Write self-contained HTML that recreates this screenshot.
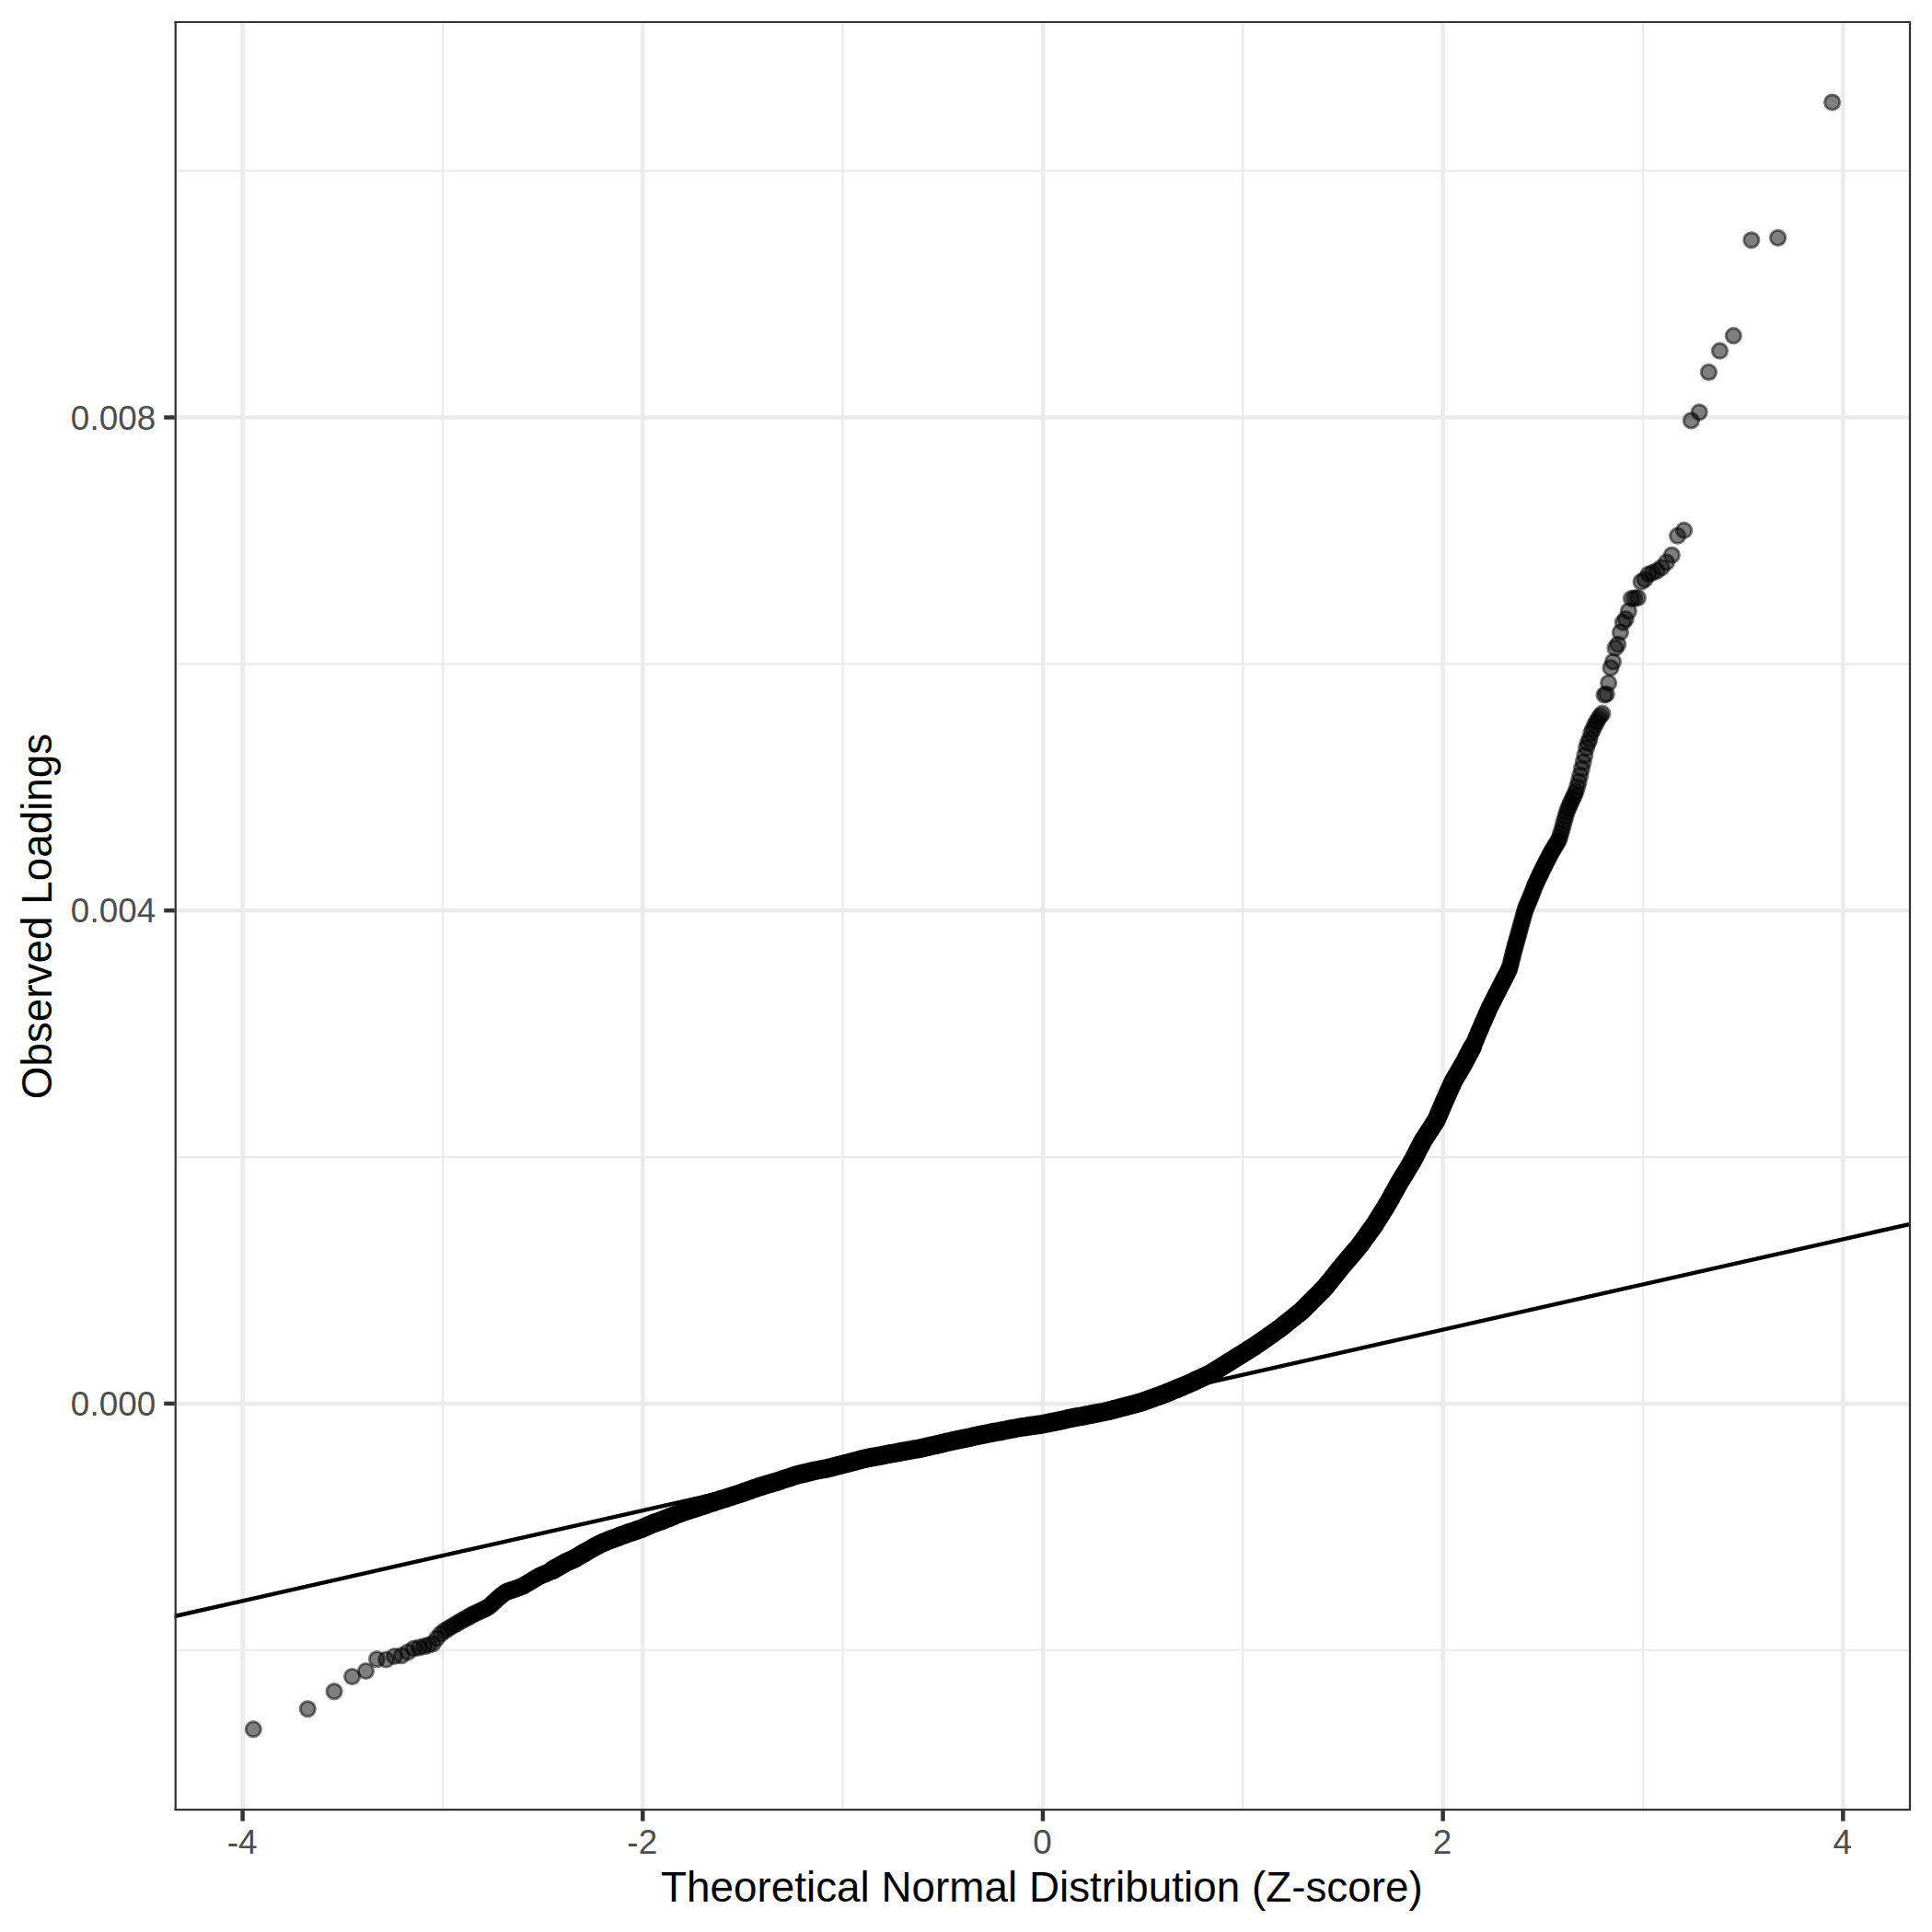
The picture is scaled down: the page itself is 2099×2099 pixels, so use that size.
<!DOCTYPE html>
<html lang="en"><head><meta charset="utf-8"><title>QQ plot</title>
<style>html,body{margin:0;padding:0;background:#fff}svg{display:block}</style></head>
<body>
<svg width="2099" height="2099" viewBox="0 0 2099 2099">
<defs>
<clipPath id="pc"><rect x="189.6" y="23" width="1886.4" height="1944.15"/></clipPath>
<circle id="p" r="8.14" fill="#000" fill-opacity=".5" stroke="#000" stroke-opacity=".5" stroke-width="2.95"/>
</defs>
<rect width="2099" height="2099" fill="#fff"/>
<g clip-path="url(#pc)">
<g stroke="#EBEBEB" stroke-width="2.225" fill="none">
<path d="M189.7 1792.75H2076.1"/>
<path d="M189.7 1257.05H2076.1"/>
<path d="M189.7 721.35H2076.1"/>
<path d="M189.7 185.65H2076.1"/>
<path d="M480.93 22.9V1967.1"/>
<path d="M915.61 22.9V1967.1"/>
<path d="M1350.29 22.9V1967.1"/>
<path d="M1784.97 22.9V1967.1"/>
</g>
<g stroke="#EBEBEB" stroke-width="4.45" fill="none">
<path d="M189.7 1524.90H2076.1"/>
<path d="M189.7 989.20H2076.1"/>
<path d="M189.7 453.50H2076.1"/>
<path d="M263.59 22.9V1967.1"/>
<path d="M698.27 22.9V1967.1"/>
<path d="M1132.95 22.9V1967.1"/>
<path d="M1567.63 22.9V1967.1"/>
<path d="M2002.31 22.9V1967.1"/>
</g>
<path d="M169.7 1760.47L2096.1 1325.13" stroke="#000" stroke-width="4.45" fill="none"/>
<path d="M600.0 1706.0 602.6 1704.5 605.1 1703.1 607.6 1701.7 609.9 1700.3 612.3 1699.0 614.5 1697.7 617.4 1696.4 620.3 1695.1 623.0 1693.9 625.7 1692.4 628.3 1690.9 630.8 1689.4 633.3 1687.9 635.7 1686.6 638.0 1685.2 640.3 1683.9 642.6 1682.6 645.3 1681.1 647.9 1679.6 650.5 1678.2 653.0 1677.0 655.4 1675.9 657.8 1674.9 660.2 1673.9 662.9 1672.9 665.5 1671.9 668.1 1671.0 670.6 1670.1 673.1 1669.1 675.5 1668.2 677.9 1667.3 680.5 1666.3 683.1 1665.4 685.7 1664.6 688.2 1663.8 690.6 1663.0 693.0 1662.1 695.6 1661.2 698.2 1660.3 700.7 1659.1 703.2 1658.0 705.6 1656.9 708.0 1655.9 710.6 1654.9 713.1 1654.0 715.6 1653.1 718.1 1652.2 720.4 1651.3 722.8 1650.4 725.3 1649.4 727.8 1648.4 730.2 1647.4 732.6 1646.4 734.9 1645.5 737.5 1644.5 739.9 1643.5 742.3 1642.6 744.9 1641.8 747.5 1640.9 749.9 1640.1 752.4 1639.4 754.7 1638.6 757.3 1637.8 759.7 1637.0 762.2 1636.2 764.6 1635.4 767.1 1634.6 769.6 1633.8 772.0 1633.0 774.4 1632.2 776.9 1631.3 779.3 1630.5 781.7 1629.7 784.3 1628.9 786.8 1628.2 789.2 1627.4 791.6 1626.6 794.1 1625.9 796.5 1625.1 799.0 1624.3 801.5 1623.5 803.9 1622.7 806.4 1621.9 808.8 1621.0 811.2 1620.1 813.7 1619.3 816.1 1618.4 818.4 1617.6 820.9 1616.7 823.3 1615.8 825.8 1615.0 828.2 1614.3 830.6 1613.6 833.1 1612.9 835.5 1612.2 838.0 1611.4 840.4 1610.7 842.9 1610.0 845.3 1609.3 847.8 1608.4 850.2 1607.6 852.6 1606.8 855.1 1606.0 857.5 1605.2 859.9 1604.4 862.3 1603.6 864.8 1602.8 867.2 1602.1 869.7 1601.5 872.2 1600.9 874.7 1600.4 877.1 1599.8 879.6 1599.2 882.1 1598.6 884.6 1598.0 887.0 1597.5 889.6 1597.0 892.1 1596.5 894.5 1596.0 897.0 1595.6 899.5 1595.1 902.0 1594.5 904.4 1593.9 906.9 1593.2 909.3 1592.6 911.8 1591.9 914.3 1591.3 916.7 1590.7 919.2 1590.0 921.6 1589.4 924.1 1588.8 926.6 1588.1 929.0 1587.5 931.5 1586.9 933.9 1586.2 936.3 1585.6 938.8 1585.0 941.2 1584.3 943.7 1583.9 946.2 1583.4 948.7 1582.9 951.2 1582.5 953.7 1582.0 956.2 1581.6 958.7 1581.1 961.2 1580.6 963.6 1580.2 966.1 1579.7 968.6 1579.2 971.1 1578.8 973.6 1578.3 976.1 1577.9 978.5 1577.4 981.0 1576.9 983.5 1576.5 986.0 1576.0 988.5 1575.6 991.0 1575.2 993.5 1574.7 996.0 1574.3 998.4 1573.9 1000.9 1573.4 1003.4 1572.8 1005.8 1572.2 1008.3 1571.7 1010.7 1571.1 1013.2 1570.5 1015.7 1570.0 1018.1 1569.4 1020.6 1568.8 1023.0 1568.3 1025.5 1567.7 1027.9 1567.1 1030.4 1566.5 1032.9 1566.0 1035.3 1565.4 1037.8 1564.9 1040.3 1564.3 1042.7 1563.8 1045.2 1563.3 1047.7 1562.8 1050.2 1562.3 1052.6 1561.8 1055.1 1561.3 1057.6 1560.7 1060.0 1560.2 1062.5 1559.7 1064.9 1559.2 1067.4 1558.7 1069.9 1558.1 1072.4 1557.6 1074.8 1557.2 1077.3 1556.7 1079.8 1556.2 1082.3 1555.7 1084.8 1555.3 1087.2 1554.8 1089.7 1554.3 1092.2 1553.8 1094.6 1553.4 1097.1 1552.9 1099.6 1552.4 1102.1 1552.0 1104.6 1551.5 1107.1 1551.0 1109.5 1550.6 1112.0 1550.2 1114.5 1549.9 1117.0 1549.5 1119.5 1549.1 1122.0 1548.8 1124.5 1548.4 1127.0 1548.1 1129.6 1547.7 1132.1 1547.3 1134.5 1546.9 1137.0 1546.4 1139.5 1545.9 1141.9 1545.3 1144.4 1544.8 1146.9 1544.3 1149.3 1543.8 1151.8 1543.3 1154.3 1542.8 1156.8 1542.3 1159.2 1541.7 1161.7 1541.2 1164.2 1540.7 1166.7 1540.2 1169.2 1539.7 1171.7 1539.2 1174.1 1538.8 1176.6 1538.3 1179.1 1537.8 1181.5 1537.3 1184.0 1536.9 1186.5 1536.4 1189.0 1535.9 1191.4 1535.4 1193.9 1535.0 1196.4 1534.5 1198.9 1534.0 1201.4 1533.5 1203.8 1533.0 1206.2 1532.3 1208.7 1531.7 1211.1 1531.0 1213.6 1530.4 1216.0 1529.8 1218.4 1529.1 1220.9 1528.5 1223.3 1527.8 1225.8 1527.2 1228.2 1526.6 1230.6 1525.9 1233.1 1525.3 1235.5 1524.6 1238.0 1524.0 1240.4 1523.2 1242.8 1522.4 1245.1 1521.5 1247.5 1520.7 1249.9 1519.8 1252.2 1519.0 1254.6 1518.1 1257.0 1517.3 1259.4 1516.4 1261.8 1515.6 1264.1 1514.7 1266.5 1513.8 1268.8 1512.8 1271.2 1511.9 1273.5 1510.9 1275.8 1509.9 1278.2 1509.0 1280.5 1508.0 1282.8 1507.0 1285.2 1506.1 1287.5 1505.1 1289.8 1504.1 1292.1 1503.1 1294.5 1502.0 1296.8 1501.0 1299.1 1499.9 1301.4 1498.8 1303.7 1497.8 1306.0 1496.7 1308.3 1495.6 1310.6 1494.6 1312.9 1493.5 1315.2 1492.4 1317.3 1491.0 1319.5 1489.7 1321.6 1488.4 1323.8 1487.0 1326.0 1485.7 1328.1 1484.3 1330.2 1483.0 1332.4 1481.7 1334.6 1480.3 1336.7 1479.0 1338.9 1477.6 1341.0 1476.3 1343.2 1474.9 1345.3 1473.6 1347.5 1472.2 1349.6 1470.9 1351.8 1469.5 1353.9 1468.2 1356.1 1466.8 1358.2 1465.4 1360.4 1464.1 1362.6 1462.7 1364.7 1461.3 1366.8 1459.9 1368.9 1458.4 1371.0 1457.0 1373.0 1455.5 1375.1 1454.1 1377.2 1452.6 1379.4 1451.1 1381.4 1449.7 1383.5 1448.2 1385.6 1446.7 1387.7 1445.3 1389.7 1443.8 1391.8 1442.2 1393.8 1440.6 1395.8 1439.0 1397.7 1437.4 1399.8 1435.8 1401.8 1434.2 1403.7 1432.6 1405.7 1431.0 1407.7 1429.4 1409.8 1427.8 1411.7 1426.2 1413.7 1424.7 1415.5 1422.9 1417.3 1421.1 1419.2 1419.2 1421.0 1417.4 1422.8 1415.6 1424.6 1413.8 1426.4 1412.0 1428.3 1410.1 1430.1 1408.3 1431.9 1406.5 1433.7 1404.7 1435.5 1402.9 1437.3 1401.1 1439.1 1399.2 1440.7 1397.2 1442.4 1395.1 1444.1 1393.0 1445.6 1391.1 1447.2 1389.1 1448.8 1387.1 1450.5 1385.1 1452.1 1383.0 1453.8 1380.9 1455.4 1378.8 1457.0 1376.9 1458.7 1374.8 1460.5 1372.8 1462.1 1370.9 1463.7 1369.0 1465.4 1367.0 1467.1 1365.0 1468.8 1363.0 1470.5 1361.0 1472.2 1359.0 1474.0 1356.9 1475.7 1354.9 1477.3 1352.9 1478.8 1350.8 1480.4 1348.7 1481.9 1346.5 1483.5 1344.3 1485.1 1342.1 1486.7 1339.9 1488.2 1337.8 1489.7 1335.8 1491.2 1333.7 1492.7 1331.6 1494.3 1329.3 1495.6 1327.0 1497.0 1324.8 1498.5 1322.5 1499.9 1320.2 1501.3 1317.9 1502.8 1315.5 1504.3 1313.2 1505.8 1310.8 1507.1 1308.6 1508.4 1306.3 1509.8 1303.9 1511.2 1301.4 1512.5 1298.9 1513.9 1296.4 1515.4 1293.8 1516.6 1291.6 1517.8 1289.4 1519.1 1287.1 1520.3 1284.9 1521.8 1282.5 1523.3 1280.0 1524.6 1277.8 1526.0 1275.7 1527.3 1273.5 1528.7 1271.3 1530.0 1269.0 1531.4 1266.7 1532.8 1264.4 1534.2 1262.0 1535.4 1259.7 1536.6 1257.4 1537.9 1255.0 1539.1 1252.6 1540.3 1250.2 1541.6 1247.7 1542.9 1245.2 1544.2 1242.7 1545.5 1240.2 1546.8 1238.0 1548.4 1235.6 1550.0 1233.1 1551.4 1231.0 1552.8 1228.8 1554.2 1226.7 1555.6 1224.5 1557.0 1222.3 1558.5 1220.0 1560.0 1217.7 1561.2 1215.3 1562.4 1212.5 1563.6 1209.6 1564.8 1206.7 1566.1 1203.8 1567.4 1200.8 1568.6 1197.8 1569.9 1194.8 1571.3 1191.9 1572.6 1188.9 1573.9 1185.9 1575.3 1182.9 1576.3 1180.6 1577.4 1178.3 1578.4 1175.9 1579.5 1173.7 1580.9 1171.2 1582.4 1168.8 1583.9 1166.3 1585.4 1163.7 1586.9 1161.1 1588.4 1158.5 1590.0 1155.8 1591.2 1153.6 1592.4 1151.3 1593.6 1149.0 1594.8 1146.6 1596.1 1144.3 1597.3 1141.9 1598.6 1139.4 1599.9 1137.0" stroke="#000" stroke-width="20.6" stroke-linecap="round" stroke-linejoin="round" fill="none"/>
<g>
<use href="#p" x="275.3" y="1878.7"/>
<use href="#p" x="334.3" y="1856.6"/>
<use href="#p" x="363.1" y="1837.6"/>
<use href="#p" x="382.6" y="1821.5"/>
<use href="#p" x="397.5" y="1815.5"/>
<use href="#p" x="409.5" y="1802.6"/>
<use href="#p" x="419.7" y="1803.0"/>
<use href="#p" x="428.5" y="1799.5"/>
<use href="#p" x="436.3" y="1798.6"/>
<use href="#p" x="443.3" y="1794.8"/>
<use href="#p" x="449.6" y="1791.1"/>
<use href="#p" x="455.4" y="1789.9"/>
<use href="#p" x="460.8" y="1788.7"/>
<use href="#p" x="465.8" y="1787.3"/>
<use href="#p" x="470.4" y="1785.6"/>
<use href="#p" x="474.8" y="1779.8"/>
<use href="#p" x="478.9" y="1775.0"/>
<use href="#p" x="482.8" y="1771.9"/>
<use href="#p" x="486.5" y="1769.6"/>
<use href="#p" x="490.0" y="1767.5"/>
<use href="#p" x="493.4" y="1765.5"/>
<use href="#p" x="496.6" y="1763.6"/>
<use href="#p" x="499.7" y="1761.8"/>
<use href="#p" x="502.6" y="1760.2"/>
<use href="#p" x="505.5" y="1758.6"/>
<use href="#p" x="508.2" y="1757.1"/>
<use href="#p" x="510.9" y="1755.6"/>
<use href="#p" x="513.4" y="1754.2"/>
<use href="#p" x="515.9" y="1753.0"/>
<use href="#p" x="518.3" y="1751.9"/>
<use href="#p" x="520.6" y="1750.8"/>
<use href="#p" x="522.9" y="1749.7"/>
<use href="#p" x="525.1" y="1748.7"/>
<use href="#p" x="527.2" y="1747.7"/>
<use href="#p" x="529.3" y="1746.7"/>
<use href="#p" x="531.3" y="1745.5"/>
<use href="#p" x="533.3" y="1743.7"/>
<use href="#p" x="535.2" y="1741.9"/>
<use href="#p" x="537.1" y="1740.1"/>
<use href="#p" x="538.9" y="1738.4"/>
<use href="#p" x="540.7" y="1736.7"/>
<use href="#p" x="542.4" y="1735.3"/>
<use href="#p" x="544.1" y="1733.9"/>
<use href="#p" x="545.8" y="1732.5"/>
<use href="#p" x="547.5" y="1731.2"/>
<use href="#p" x="549.1" y="1729.9"/>
<use href="#p" x="550.7" y="1729.2"/>
<use href="#p" x="552.2" y="1728.7"/>
<use href="#p" x="553.7" y="1728.2"/>
<use href="#p" x="555.2" y="1727.7"/>
<use href="#p" x="556.7" y="1727.2"/>
<use href="#p" x="558.1" y="1726.8"/>
<use href="#p" x="559.6" y="1726.3"/>
<use href="#p" x="560.9" y="1725.8"/>
<use href="#p" x="562.3" y="1725.3"/>
<use href="#p" x="563.7" y="1724.8"/>
<use href="#p" x="565.0" y="1724.3"/>
<use href="#p" x="566.3" y="1723.8"/>
<use href="#p" x="567.6" y="1723.4"/>
<use href="#p" x="568.8" y="1722.7"/>
<use href="#p" x="570.1" y="1721.9"/>
<use href="#p" x="571.3" y="1721.2"/>
<use href="#p" x="572.5" y="1720.5"/>
<use href="#p" x="573.7" y="1719.8"/>
<use href="#p" x="574.9" y="1719.1"/>
<use href="#p" x="576.1" y="1718.4"/>
<use href="#p" x="577.2" y="1717.7"/>
<use href="#p" x="578.3" y="1717.0"/>
<use href="#p" x="579.4" y="1716.3"/>
<use href="#p" x="580.5" y="1715.6"/>
<use href="#p" x="581.6" y="1715.0"/>
<use href="#p" x="582.7" y="1714.3"/>
<use href="#p" x="583.8" y="1713.7"/>
<use href="#p" x="584.8" y="1713.1"/>
<use href="#p" x="585.8" y="1712.5"/>
<use href="#p" x="586.9" y="1711.9"/>
<use href="#p" x="587.9" y="1711.5"/>
<use href="#p" x="588.9" y="1711.1"/>
<use href="#p" x="589.9" y="1710.7"/>
<use href="#p" x="590.8" y="1710.3"/>
<use href="#p" x="591.8" y="1709.9"/>
<use href="#p" x="592.7" y="1709.6"/>
<use href="#p" x="593.7" y="1709.2"/>
<use href="#p" x="594.6" y="1708.8"/>
<use href="#p" x="595.6" y="1708.4"/>
<use href="#p" x="596.5" y="1708.0"/>
<use href="#p" x="597.4" y="1707.5"/>
<use href="#p" x="598.3" y="1707.0"/>
<use href="#p" x="599.2" y="1706.5"/>
<use href="#p" x="600.0" y="1706.0"/>
<use href="#p" x="600.9" y="1705.5"/>
<use href="#p" x="601.8" y="1705.0"/>
<use href="#p" x="602.6" y="1704.5"/>
<use href="#p" x="603.5" y="1704.1"/>
<use href="#p" x="604.3" y="1703.6"/>
<use href="#p" x="605.1" y="1703.1"/>
<use href="#p" x="605.9" y="1702.7"/>
<use href="#p" x="606.8" y="1702.2"/>
<use href="#p" x="607.6" y="1701.7"/>
<use href="#p" x="608.4" y="1701.3"/>
<use href="#p" x="609.2" y="1700.8"/>
<use href="#p" x="609.9" y="1700.3"/>
<use href="#p" x="611.5" y="1699.4"/>
<use href="#p" x="613.0" y="1698.6"/>
<use href="#p" x="614.5" y="1697.7"/>
<use href="#p" x="616.0" y="1697.0"/>
<use href="#p" x="617.4" y="1696.4"/>
<use href="#p" x="618.9" y="1695.7"/>
<use href="#p" x="620.3" y="1695.1"/>
<use href="#p" x="621.7" y="1694.5"/>
<use href="#p" x="623.0" y="1693.9"/>
<use href="#p" x="624.4" y="1693.2"/>
<use href="#p" x="625.7" y="1692.4"/>
<use href="#p" x="627.0" y="1691.7"/>
<use href="#p" x="628.3" y="1690.9"/>
<use href="#p" x="629.6" y="1690.1"/>
<use href="#p" x="630.8" y="1689.4"/>
<use href="#p" x="632.1" y="1688.7"/>
<use href="#p" x="633.3" y="1687.9"/>
<use href="#p" x="634.5" y="1687.2"/>
<use href="#p" x="635.7" y="1686.6"/>
<use href="#p" x="636.9" y="1685.9"/>
<use href="#p" x="638.0" y="1685.2"/>
<use href="#p" x="639.2" y="1684.5"/>
<use href="#p" x="640.3" y="1683.9"/>
<use href="#p" x="1545.2" y="1240.7"/>
<use href="#p" x="1545.7" y="1239.7"/>
<use href="#p" x="1546.2" y="1238.9"/>
<use href="#p" x="1546.8" y="1238.0"/>
<use href="#p" x="1547.3" y="1237.2"/>
<use href="#p" x="1547.8" y="1236.4"/>
<use href="#p" x="1548.4" y="1235.6"/>
<use href="#p" x="1548.9" y="1234.7"/>
<use href="#p" x="1549.5" y="1233.9"/>
<use href="#p" x="1550.0" y="1233.1"/>
<use href="#p" x="1550.5" y="1232.2"/>
<use href="#p" x="1551.1" y="1231.4"/>
<use href="#p" x="1551.6" y="1230.5"/>
<use href="#p" x="1552.2" y="1229.7"/>
<use href="#p" x="1552.8" y="1228.8"/>
<use href="#p" x="1553.3" y="1228.0"/>
<use href="#p" x="1553.9" y="1227.1"/>
<use href="#p" x="1554.4" y="1226.2"/>
<use href="#p" x="1555.0" y="1225.4"/>
<use href="#p" x="1555.6" y="1224.5"/>
<use href="#p" x="1556.2" y="1223.6"/>
<use href="#p" x="1556.7" y="1222.7"/>
<use href="#p" x="1557.3" y="1221.8"/>
<use href="#p" x="1557.9" y="1220.9"/>
<use href="#p" x="1558.5" y="1220.0"/>
<use href="#p" x="1559.1" y="1219.1"/>
<use href="#p" x="1559.7" y="1218.2"/>
<use href="#p" x="1560.3" y="1217.3"/>
<use href="#p" x="1560.9" y="1216.0"/>
<use href="#p" x="1561.5" y="1214.6"/>
<use href="#p" x="1562.1" y="1213.2"/>
<use href="#p" x="1562.7" y="1211.8"/>
<use href="#p" x="1563.3" y="1210.4"/>
<use href="#p" x="1563.9" y="1208.9"/>
<use href="#p" x="1564.5" y="1207.5"/>
<use href="#p" x="1565.2" y="1206.0"/>
<use href="#p" x="1565.8" y="1204.5"/>
<use href="#p" x="1566.4" y="1203.1"/>
<use href="#p" x="1567.0" y="1201.6"/>
<use href="#p" x="1567.7" y="1200.1"/>
<use href="#p" x="1568.3" y="1198.6"/>
<use href="#p" x="1569.0" y="1197.1"/>
<use href="#p" x="1569.6" y="1195.6"/>
<use href="#p" x="1570.3" y="1194.1"/>
<use href="#p" x="1570.9" y="1192.6"/>
<use href="#p" x="1571.6" y="1191.1"/>
<use href="#p" x="1572.2" y="1189.7"/>
<use href="#p" x="1572.9" y="1188.2"/>
<use href="#p" x="1573.6" y="1186.7"/>
<use href="#p" x="1574.3" y="1185.2"/>
<use href="#p" x="1574.9" y="1183.7"/>
<use href="#p" x="1575.6" y="1182.1"/>
<use href="#p" x="1576.3" y="1180.6"/>
<use href="#p" x="1577.0" y="1179.1"/>
<use href="#p" x="1577.7" y="1177.5"/>
<use href="#p" x="1578.4" y="1175.9"/>
<use href="#p" x="1579.1" y="1174.4"/>
<use href="#p" x="1579.8" y="1173.1"/>
<use href="#p" x="1580.6" y="1171.9"/>
<use href="#p" x="1581.3" y="1170.6"/>
<use href="#p" x="1582.0" y="1169.4"/>
<use href="#p" x="1582.8" y="1168.1"/>
<use href="#p" x="1583.5" y="1166.9"/>
<use href="#p" x="1584.2" y="1165.6"/>
<use href="#p" x="1585.0" y="1164.3"/>
<use href="#p" x="1585.7" y="1163.1"/>
<use href="#p" x="1586.5" y="1161.8"/>
<use href="#p" x="1587.3" y="1160.5"/>
<use href="#p" x="1588.0" y="1159.2"/>
<use href="#p" x="1588.8" y="1157.8"/>
<use href="#p" x="1589.6" y="1156.5"/>
<use href="#p" x="1590.4" y="1155.1"/>
<use href="#p" x="1591.2" y="1153.6"/>
<use href="#p" x="1592.0" y="1152.0"/>
<use href="#p" x="1592.8" y="1150.5"/>
<use href="#p" x="1593.6" y="1149.0"/>
<use href="#p" x="1594.4" y="1147.4"/>
<use href="#p" x="1595.3" y="1145.8"/>
<use href="#p" x="1596.1" y="1144.3"/>
<use href="#p" x="1596.5" y="1143.5"/>
<use href="#p" x="1596.9" y="1142.7"/>
<use href="#p" x="1597.3" y="1141.9"/>
<use href="#p" x="1597.8" y="1141.0"/>
<use href="#p" x="1598.2" y="1140.2"/>
<use href="#p" x="1598.6" y="1139.4"/>
<use href="#p" x="1599.1" y="1138.6"/>
<use href="#p" x="1599.5" y="1137.8"/>
<use href="#p" x="1599.9" y="1137.0"/>
<use href="#p" x="1600.4" y="1136.1"/>
<use href="#p" x="1600.8" y="1135.3"/>
<use href="#p" x="1601.2" y="1134.3"/>
<use href="#p" x="1601.7" y="1133.2"/>
<use href="#p" x="1602.1" y="1132.2"/>
<use href="#p" x="1602.6" y="1131.1"/>
<use href="#p" x="1603.0" y="1130.1"/>
<use href="#p" x="1603.5" y="1129.0"/>
<use href="#p" x="1603.9" y="1128.0"/>
<use href="#p" x="1604.4" y="1126.9"/>
<use href="#p" x="1604.8" y="1125.8"/>
<use href="#p" x="1605.3" y="1124.8"/>
<use href="#p" x="1605.7" y="1123.7"/>
<use href="#p" x="1606.2" y="1122.6"/>
<use href="#p" x="1606.7" y="1121.5"/>
<use href="#p" x="1607.1" y="1120.4"/>
<use href="#p" x="1607.6" y="1119.3"/>
<use href="#p" x="1608.1" y="1118.2"/>
<use href="#p" x="1608.5" y="1117.1"/>
<use href="#p" x="1609.0" y="1116.0"/>
<use href="#p" x="1609.5" y="1114.8"/>
<use href="#p" x="1610.0" y="1113.7"/>
<use href="#p" x="1610.5" y="1112.6"/>
<use href="#p" x="1610.9" y="1111.5"/>
<use href="#p" x="1611.4" y="1110.4"/>
<use href="#p" x="1611.9" y="1109.3"/>
<use href="#p" x="1612.4" y="1108.2"/>
<use href="#p" x="1612.9" y="1107.1"/>
<use href="#p" x="1613.4" y="1106.0"/>
<use href="#p" x="1613.9" y="1104.8"/>
<use href="#p" x="1614.4" y="1103.7"/>
<use href="#p" x="1614.9" y="1102.5"/>
<use href="#p" x="1615.4" y="1101.4"/>
<use href="#p" x="1615.9" y="1100.2"/>
<use href="#p" x="1616.4" y="1099.1"/>
<use href="#p" x="1616.9" y="1097.9"/>
<use href="#p" x="1617.5" y="1096.7"/>
<use href="#p" x="1618.0" y="1095.5"/>
<use href="#p" x="1618.5" y="1094.3"/>
<use href="#p" x="1619.0" y="1093.2"/>
<use href="#p" x="1619.6" y="1092.2"/>
<use href="#p" x="1620.1" y="1091.2"/>
<use href="#p" x="1620.6" y="1090.1"/>
<use href="#p" x="1621.2" y="1089.1"/>
<use href="#p" x="1621.7" y="1088.0"/>
<use href="#p" x="1622.3" y="1087.0"/>
<use href="#p" x="1622.8" y="1085.9"/>
<use href="#p" x="1623.3" y="1084.8"/>
<use href="#p" x="1623.9" y="1083.7"/>
<use href="#p" x="1624.5" y="1082.7"/>
<use href="#p" x="1625.0" y="1081.6"/>
<use href="#p" x="1625.6" y="1080.5"/>
<use href="#p" x="1626.1" y="1079.4"/>
<use href="#p" x="1626.7" y="1078.2"/>
<use href="#p" x="1627.3" y="1077.1"/>
<use href="#p" x="1627.9" y="1076.0"/>
<use href="#p" x="1628.4" y="1074.9"/>
<use href="#p" x="1629.0" y="1073.7"/>
<use href="#p" x="1629.6" y="1072.6"/>
<use href="#p" x="1630.2" y="1071.4"/>
<use href="#p" x="1630.8" y="1070.3"/>
<use href="#p" x="1631.4" y="1069.1"/>
<use href="#p" x="1632.0" y="1067.9"/>
<use href="#p" x="1632.6" y="1066.7"/>
<use href="#p" x="1633.2" y="1065.6"/>
<use href="#p" x="1633.8" y="1064.4"/>
<use href="#p" x="1634.4" y="1063.2"/>
<use href="#p" x="1635.1" y="1061.9"/>
<use href="#p" x="1635.7" y="1060.7"/>
<use href="#p" x="1636.3" y="1059.5"/>
<use href="#p" x="1637.0" y="1058.3"/>
<use href="#p" x="1637.6" y="1057.0"/>
<use href="#p" x="1638.2" y="1055.8"/>
<use href="#p" x="1638.9" y="1054.5"/>
<use href="#p" x="1639.5" y="1053.2"/>
<use href="#p" x="1640.2" y="1051.3"/>
<use href="#p" x="1640.9" y="1048.7"/>
<use href="#p" x="1641.5" y="1046.1"/>
<use href="#p" x="1642.2" y="1043.4"/>
<use href="#p" x="1642.9" y="1040.7"/>
<use href="#p" x="1643.5" y="1038.0"/>
<use href="#p" x="1644.2" y="1035.3"/>
<use href="#p" x="1644.9" y="1032.5"/>
<use href="#p" x="1645.6" y="1029.9"/>
<use href="#p" x="1646.3" y="1027.4"/>
<use href="#p" x="1647.0" y="1024.8"/>
<use href="#p" x="1647.7" y="1022.2"/>
<use href="#p" x="1648.5" y="1019.6"/>
<use href="#p" x="1649.2" y="1017.0"/>
<use href="#p" x="1649.9" y="1014.4"/>
<use href="#p" x="1650.6" y="1011.7"/>
<use href="#p" x="1651.4" y="1009.0"/>
<use href="#p" x="1652.1" y="1006.3"/>
<use href="#p" x="1652.9" y="1003.6"/>
<use href="#p" x="1653.6" y="1000.8"/>
<use href="#p" x="1654.4" y="998.0"/>
<use href="#p" x="1655.2" y="995.2"/>
<use href="#p" x="1656.0" y="992.4"/>
<use href="#p" x="1656.7" y="989.7"/>
<use href="#p" x="1657.5" y="987.5"/>
<use href="#p" x="1658.3" y="985.3"/>
<use href="#p" x="1659.1" y="983.3"/>
<use href="#p" x="1660.0" y="981.4"/>
<use href="#p" x="1660.8" y="979.5"/>
<use href="#p" x="1661.6" y="977.6"/>
<use href="#p" x="1662.4" y="975.7"/>
<use href="#p" x="1663.3" y="973.6"/>
<use href="#p" x="1664.1" y="971.4"/>
<use href="#p" x="1665.0" y="969.1"/>
<use href="#p" x="1665.9" y="966.8"/>
<use href="#p" x="1666.7" y="964.5"/>
<use href="#p" x="1667.6" y="962.2"/>
<use href="#p" x="1668.5" y="960.2"/>
<use href="#p" x="1669.4" y="958.2"/>
<use href="#p" x="1670.3" y="956.1"/>
<use href="#p" x="1671.3" y="954.1"/>
<use href="#p" x="1672.2" y="952.0"/>
<use href="#p" x="1673.2" y="950.1"/>
<use href="#p" x="1674.1" y="948.2"/>
<use href="#p" x="1675.1" y="946.3"/>
<use href="#p" x="1676.0" y="944.3"/>
<use href="#p" x="1677.0" y="942.3"/>
<use href="#p" x="1678.0" y="940.3"/>
<use href="#p" x="1679.0" y="938.3"/>
<use href="#p" x="1680.1" y="936.3"/>
<use href="#p" x="1681.1" y="934.3"/>
<use href="#p" x="1682.1" y="932.2"/>
<use href="#p" x="1683.2" y="930.1"/>
<use href="#p" x="1684.3" y="927.9"/>
<use href="#p" x="1685.4" y="926.0"/>
<use href="#p" x="1686.5" y="924.2"/>
<use href="#p" x="1687.6" y="922.3"/>
<use href="#p" x="1688.7" y="920.5"/>
<use href="#p" x="1689.8" y="918.6"/>
<use href="#p" x="1691.0" y="916.6"/>
<use href="#p" x="1692.2" y="914.7"/>
<use href="#p" x="1693.4" y="912.7"/>
<use href="#p" x="1694.6" y="909.4"/>
<use href="#p" x="1695.8" y="905.2"/>
<use href="#p" x="1697.1" y="900.9"/>
<use href="#p" x="1698.3" y="896.4"/>
<use href="#p" x="1699.6" y="891.6"/>
<use href="#p" x="1700.9" y="887.0"/>
<use href="#p" x="1702.2" y="882.8"/>
<use href="#p" x="1703.6" y="878.8"/>
<use href="#p" x="1705.0" y="875.8"/>
<use href="#p" x="1706.3" y="872.6"/>
<use href="#p" x="1707.8" y="869.5"/>
<use href="#p" x="1709.2" y="866.3"/>
<use href="#p" x="1710.7" y="863.0"/>
<use href="#p" x="1712.2" y="859.7"/>
<use href="#p" x="1713.7" y="854.6"/>
<use href="#p" x="1715.2" y="848.9"/>
<use href="#p" x="1716.8" y="842.3"/>
<use href="#p" x="1718.4" y="835.2"/>
<use href="#p" x="1720.1" y="828.1"/>
<use href="#p" x="1721.8" y="820.6"/>
<use href="#p" x="1723.5" y="812.5"/>
<use href="#p" x="1725.2" y="807.3"/>
<use href="#p" x="1727.0" y="803.1"/>
<use href="#p" x="1728.8" y="796.4"/>
<use href="#p" x="1730.7" y="792.2"/>
<use href="#p" x="1732.6" y="787.9"/>
<use href="#p" x="1734.6" y="784.4"/>
<use href="#p" x="1736.6" y="780.8"/>
<use href="#p" x="1738.7" y="777.8"/>
<use href="#p" x="1740.8" y="775.2"/>
<use href="#p" x="1743.0" y="755.0"/>
<use href="#p" x="1745.3" y="754.0"/>
<use href="#p" x="1747.6" y="742.0"/>
<use href="#p" x="1750.0" y="725.5"/>
<use href="#p" x="1752.5" y="718.9"/>
<use href="#p" x="1755.0" y="704.0"/>
<use href="#p" x="1757.7" y="700.0"/>
<use href="#p" x="1760.4" y="687.0"/>
<use href="#p" x="1763.3" y="676.3"/>
<use href="#p" x="1766.2" y="672.5"/>
<use href="#p" x="1769.3" y="663.9"/>
<use href="#p" x="1772.5" y="650.3"/>
<use href="#p" x="1775.9" y="649.9"/>
<use href="#p" x="1779.4" y="649.5"/>
<use href="#p" x="1783.1" y="632.1"/>
<use href="#p" x="1787.0" y="629.5"/>
<use href="#p" x="1791.1" y="623.8"/>
<use href="#p" x="1795.5" y="622.3"/>
<use href="#p" x="1800.1" y="620.2"/>
<use href="#p" x="1805.1" y="616.6"/>
<use href="#p" x="1810.5" y="610.9"/>
<use href="#p" x="1816.3" y="603.1"/>
<use href="#p" x="1822.6" y="582.2"/>
<use href="#p" x="1829.6" y="576.2"/>
<use href="#p" x="1837.4" y="456.9"/>
<use href="#p" x="1846.2" y="447.8"/>
<use href="#p" x="1856.4" y="404.4"/>
<use href="#p" x="1868.4" y="381.2"/>
<use href="#p" x="1883.3" y="364.7"/>
<use href="#p" x="1902.8" y="260.8"/>
<use href="#p" x="1931.6" y="258.4"/>
<use href="#p" x="1990.6" y="111.1"/>
</g>
</g>
<path fill="#333" d="M189.6 23H191.85V1967H189.6Z"/>
<path fill="#333" d="M189.6 22.95H2076.15V25.1H189.6Z M189.6 1965H2076.15V1967.15H189.6Z M2073.9 23H2076.15V1967.15H2073.9Z"/>
<g stroke="#333" stroke-width="4.45" fill="none">
<path d="M178.24 1524.90H189.7"/>
<path d="M178.24 989.20H189.7"/>
<path d="M178.24 453.50H189.7"/>
<path d="M263.59 1967.1V1978.56"/>
<path d="M698.27 1967.1V1978.56"/>
<path d="M1132.95 1967.1V1978.56"/>
<path d="M1567.63 1967.1V1978.56"/>
<path d="M2002.31 1967.1V1978.56"/>
</g>
<g font-family="'Liberation Sans', sans-serif" font-size="36.9" fill="#4D4D4D">
<text transform="translate(169.2 1537.90) scale(1 1.02)" text-anchor="end">0.000</text>
<text transform="translate(169.2 1002.20) scale(1 1.02)" text-anchor="end">0.004</text>
<text transform="translate(169.2 466.50) scale(1 1.02)" text-anchor="end">0.008</text>
<text transform="translate(263.09 2014.1) scale(1 1.02)" text-anchor="middle">-4</text>
<text transform="translate(697.77 2014.1) scale(1 1.02)" text-anchor="middle">-2</text>
<text transform="translate(1132.45 2014.1) scale(1 1.02)" text-anchor="middle">0</text>
<text transform="translate(1567.13 2014.1) scale(1 1.02)" text-anchor="middle">2</text>
<text transform="translate(2001.81 2014.1) scale(1 1.02)" text-anchor="middle">4</text>
</g>
<g font-family="'Liberation Sans', sans-serif" font-size="45.83" fill="#000">
<text x="1131.9" y="2066" text-anchor="middle">Theoretical Normal Distribution (Z-score)</text>
<text transform="translate(55.8 995.5) rotate(-90)" text-anchor="middle">Observed Loadings</text>
</g>
</svg>
</body></html>
